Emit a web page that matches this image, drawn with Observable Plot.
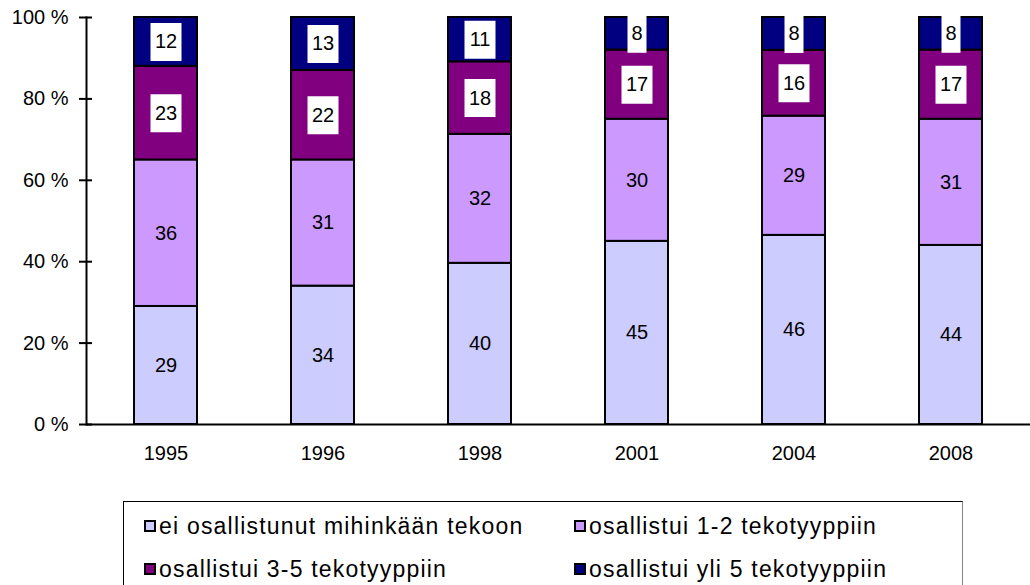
<!DOCTYPE html>
<html>
<head>
<meta charset="utf-8">
<script src="https://cdn.jsdelivr.net/npm/d3@7"></script>
<script src="https://cdn.jsdelivr.net/npm/@observablehq/plot@0.6"></script>
<style>
  html, body { margin: 0; padding: 0; background: #fff; }
  body { width: 1030px; height: 585px; overflow: hidden; font-family: Arial, "Liberation Sans", sans-serif; position: relative; }
  #chart svg { display: block; }
  #legend {
    position: absolute; left: 123px; top: 501px; width: 840px; height: 100px;
    border: 1px solid #000; border-right-color: #888; box-sizing: border-box; background: #fff;
  }
  .item { position: absolute; height: 30px; display: flex; align-items: center; font-size: 23px; letter-spacing: 1.2px; color: #000; white-space: nowrap; }
  .sw { width: 8px; height: 8px; border: 2px solid #000; margin-right: 3px; flex: none; }
</style>
</head>
<body>
<div id="chart"></div>
<div id="legend"></div>
<script>
const years = ["1995", "1996", "1998", "2001", "2004", "2008"];
const categories = [
  "ei osallistunut mihinkään tekoon",
  "osallistui 1-2 tekotyyppiin",
  "osallistui 3-5 tekotyyppiin",
  "osallistui yli 5 tekotyyppiin"
];
const colors = ["#CCCCFF", "#CC99FF", "#800080", "#000080"];
const none = [29, 34, 40, 45, 46, 44];
const oneTwo = [36, 31, 32, 30, 29, 31];
const threeFive = [23, 22, 18, 17, 16, 17];
const overFive = [12, 13, 11, 8, 8, 8];
const yTicks = [0, 20, 40, 60, 80, 100];

const series = [none, oneTwo, threeFive, overFive];
const rows = [];
years.forEach((yr, i) => {
  series.forEach((s, k) => rows.push({year: yr, cat: categories[k], order: k, value: s[i]}));
});
const stackOpts = {x: "year", y: "value", z: "cat", order: categories, offset: "normalize"};

function boxSymbol(w, h) {
  return {draw(ctx) { ctx.rect(-w / 2, -h / 2, w, h); }};
}
const noBox = {draw() {}};
const wideBox = boxSymbol(31, 38);
const narrowBox = boxSymbol(19, 38);

const chart = Plot.plot({
  width: 1030,
  height: 490,
  marginLeft: 86,
  marginRight: 0,
  marginTop: 17,
  marginBottom: 66,
  style: {fontFamily: "Arial, 'Liberation Sans', sans-serif", fontSize: "20px", color: "#000", background: "#fff", overflow: "visible"},
  x: {domain: years, paddingInner: 0.6, paddingOuter: 0.3, label: null},
  y: {domain: [0, 1], label: null},
  color: {domain: categories, range: colors},
  symbol: {type: "identity"},
  marks: [
    Plot.barY(rows, Plot.stackY({...stackOpts, fill: "cat", stroke: "#000", strokeWidth: 2})),
    Plot.dot(rows, Plot.stackY({...stackOpts,
      symbol: d => d.order < 2 ? noBox : (d.value >= 10 ? wideBox : narrowBox),
      r: 1, fill: "#fff", stroke: "none"})),
    Plot.text(rows, Plot.stackY({...stackOpts, text: d => String(d.value), fill: "#000", fontSize: 20})),
    Plot.ruleY([0], {stroke: "#000", strokeWidth: 2}),
    Plot.frame({anchor: "left", stroke: "#000", strokeWidth: 2}),
    Plot.axisY(yTicks.map(d => d / 100), {tickSize: 13, dx: 6, tickFormat: () => "", stroke: "#000", strokeWidth: 2, label: null}),
    Plot.axisY(yTicks.map(d => d / 100), {tickSize: 0, tickPadding: 18, tickFormat: d => Math.round(d * 100) + " %", fontSize: 20, label: null}),
    Plot.axisX({tickSize: 0, tickPadding: 21, fontSize: 20, label: null})
  ]
});
document.getElementById("chart").appendChild(chart);

const legend = document.getElementById("legend");
const pos = [[20, 9], [450, 9], [20, 52], [450, 52]];
categories.forEach((c, k) => {
  const it = document.createElement("div");
  it.className = "item";
  it.style.left = pos[k][0] + "px";
  it.style.top = pos[k][1] + "px";
  const sw = document.createElement("span");
  sw.className = "sw";
  sw.style.background = colors[k];
  const tx = document.createElement("span");
  tx.textContent = c;
  it.appendChild(sw);
  it.appendChild(tx);
  legend.appendChild(it);
});
</script>
</body>
</html>
